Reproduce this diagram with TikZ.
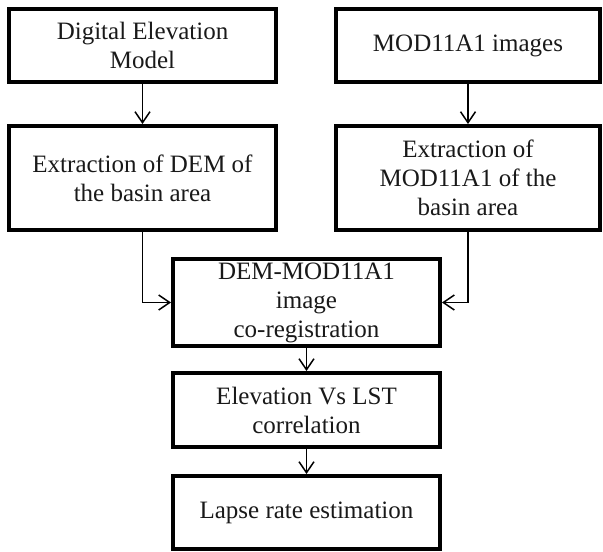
\documentclass[tikz,border=0pt]{standalone}
\usepackage{fontspec}
\setmainfont{Liberation Serif}
\usetikzlibrary{arrows.meta}
\begin{document}
\begin{tikzpicture}[x=1pt,y=-1pt,
  procbox/.style={draw=black,line width=4pt,inner sep=0pt,align=center,
    font=\fontsize{25}{29}\selectfont,text=black!90},
  flow/.style={line width=1.5pt,-{Straight Barb[length=11pt,width=15pt,line width=1.5pt]}}]
\useasboundingbox (0,0) rectangle (603,552);
% input data
\node[procbox,minimum width=267pt,minimum height=73pt] (dem) at (142.5,45.5) {Digital Elevation\\Model};
\node[procbox,minimum width=264pt,minimum height=73pt] (mod) at (468,45.5) {MOD11A1 images};
% clipping to the basin
\node[procbox,minimum width=267pt,minimum height=104pt] (demx) at (142.5,178) {Extraction of DEM of\\the basin area};
\node[procbox,minimum width=264pt,minimum height=104pt] (modx) at (468,178) {Extraction of\\MOD11A1 of the\\basin area};
% analysis chain
\node[procbox,minimum width=267pt,minimum height=87pt] (coreg) at (306.5,302.5) {DEM-MOD11A1\\image\\co-registration};
\node[procbox,minimum width=267pt,minimum height=74pt] (corr) at (306.5,410) {Elevation Vs LST\\correlation};
\node[procbox,minimum width=267pt,minimum height=73pt] (lapse) at (306.5,512.5) {Lapse rate estimation};
% connectors
\draw[flow] (dem) -- (demx);
\draw[flow] (mod) -- (modx);
\draw[flow] (demx.south) |- (coreg.west);
\draw[flow] (modx.south) |- (coreg.east);
\draw[flow] (coreg) -- (corr);
\draw[flow] (corr) -- (lapse);
\end{tikzpicture}
\end{document}
